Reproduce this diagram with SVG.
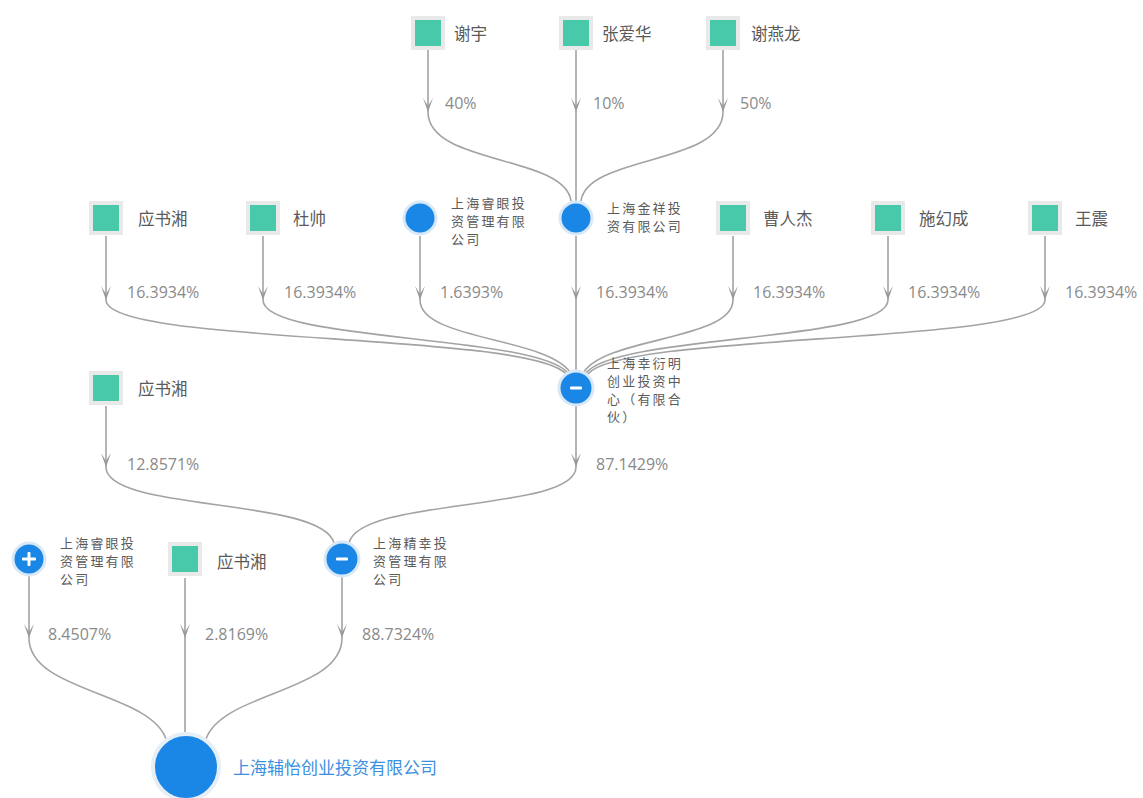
<svg xmlns="http://www.w3.org/2000/svg" width="1143" height="798" viewBox="0 0 1143 798">
<style>
.sq{fill:#48c9a9;stroke:#e9e9e9;stroke-width:4}
.ci{fill:#1a86e6;stroke:#d9e8f6;stroke-width:3}
.lbl{font-family:"Noto Sans CJK SC","Noto Sans",sans-serif;font-size:16.5px;fill:#5a5a5a}
.ml{font-family:"Noto Sans CJK SC","Noto Sans",sans-serif;font-size:13px;letter-spacing:2.2px;fill:#5a5a5a}
.pct{font-family:"Open Sans","Noto Sans",sans-serif;font-size:16px;fill:#8a8a8a}
.ln{fill:none;stroke:#a3a3a3;stroke-width:1.6}
.sg{fill:#fff}
</style>
<defs>
<marker id="ah" viewBox="0 0 10 16" refX="5" refY="15" markerWidth="10" markerHeight="16" markerUnits="userSpaceOnUse" orient="0">
<path d="M0,1 L5,15 L10,1 L5,9 z" fill="#999"/>
</marker>
</defs>
<rect width="1143" height="798" fill="#fff"/>
<g id="connectors">
<path class="ln" d="M428,50 V112" marker-end="url(#ah)"/>
<path class="ln" d="M576,50 V112" marker-end="url(#ah)"/>
<path class="ln" d="M723,50 V112" marker-end="url(#ah)"/>
<path class="ln" d="M428,112 C428,165 565,155 571,201"/>
<path class="ln" d="M576,112 V201"/>
<path class="ln" d="M723,112 C723,165 587,155 581,201"/>
<path class="ln" d="M106,236 V300" marker-end="url(#ah)"/>
<path class="ln" d="M263,236 V300" marker-end="url(#ah)"/>
<path class="ln" d="M420,236 V300" marker-end="url(#ah)"/>
<path class="ln" d="M576,236 V300" marker-end="url(#ah)"/>
<path class="ln" d="M733,236 V300" marker-end="url(#ah)"/>
<path class="ln" d="M888,236 V300" marker-end="url(#ah)"/>
<path class="ln" d="M1045,236 V300" marker-end="url(#ah)"/>
<path class="ln" d="M106,300 C106,345 530,332 566,374"/>
<path class="ln" d="M263,300 C263,342 535,334 568,373"/>
<path class="ln" d="M420,300 C420,340 545,337 570,372"/>
<path class="ln" d="M576,300 V370"/>
<path class="ln" d="M733,300 C733,340 607,337 584,372"/>
<path class="ln" d="M888,300 C888,342 617,334 586,373"/>
<path class="ln" d="M1045,300 C1045,345 622,332 588,374"/>
<path class="ln" d="M106,406 V467" marker-end="url(#ah)"/>
<path class="ln" d="M576,406 V467" marker-end="url(#ah)"/>
<path class="ln" d="M106,467 C106,512 322,497 334,543"/>
<path class="ln" d="M576,467 C576,512 360,497 349,543"/>
<path class="ln" d="M29,576 V638" marker-end="url(#ah)"/>
<path class="ln" d="M185,578 V638" marker-end="url(#ah)"/>
<path class="ln" d="M342,576 V638" marker-end="url(#ah)"/>
<path class="ln" d="M29,638 C29,692 150,692 166,739"/>
<path class="ln" d="M185,638 V732"/>
<path class="ln" d="M342,638 C342,692 222,692 206,739"/>
</g>
<g id="n_xieyu"><rect class="sq" x="413" y="18" width="30" height="30"/><text class="lbl" x="454" y="40">谢宇</text></g>
<g id="n_zhangaihua"><rect class="sq" x="561" y="18" width="30" height="30"/><text class="lbl" x="602" y="40">张爱华</text></g>
<g id="n_xieyanlong"><rect class="sq" x="708" y="18" width="30" height="30"/><text class="lbl" x="751" y="40">谢燕龙</text></g>
<g id="p_row1">
<text class="pct" x="445" y="109">40%</text>
<text class="pct" x="593" y="109">10%</text>
<text class="pct" x="740" y="109">50%</text>
</g>
<g id="n_ysx1"><rect class="sq" x="91" y="203" width="30" height="30"/><text class="lbl" x="138" y="225">应书湘</text></g>
<g id="n_dushuai"><rect class="sq" x="248" y="203" width="30" height="30"/><text class="lbl" x="293" y="225">杜帅</text></g>
<g id="n_ruiyan1"><circle class="ci" cx="420" cy="218" r="16"/><text class="ml" x="451" y="208">上海睿眼投</text><text class="ml" x="451" y="226">资管理有限</text><text class="ml" x="451" y="244">公司</text></g>
<g id="n_jinxiang"><circle class="ci" cx="576" cy="218" r="16"/><text class="ml" x="607" y="213">上海金祥投</text><text class="ml" x="607" y="231">资有限公司</text></g>
<g id="n_caorenjie"><rect class="sq" x="718" y="203" width="30" height="30"/><text class="lbl" x="763" y="225">曹人杰</text></g>
<g id="n_shihuancheng"><rect class="sq" x="873" y="203" width="30" height="30"/><text class="lbl" x="919" y="225">施幻成</text></g>
<g id="n_wangzhen"><rect class="sq" x="1030" y="203" width="30" height="30"/><text class="lbl" x="1075" y="225">王震</text></g>
<g id="p_row2">
<text class="pct" x="127" y="298">16.3934%</text>
<text class="pct" x="284" y="298">16.3934%</text>
<text class="pct" x="440" y="298">1.6393%</text>
<text class="pct" x="596" y="298">16.3934%</text>
<text class="pct" x="753" y="298">16.3934%</text>
<text class="pct" x="908" y="298">16.3934%</text>
<text class="pct" x="1065" y="298">16.3934%</text>
</g>
<g id="n_xingyanming"><circle class="ci" cx="576" cy="388" r="17"/><rect class="sg" x="570" y="386.5" width="12" height="3" rx="1"/>
<text class="ml" x="607" y="368">上海幸衍明</text><text class="ml" x="607" y="386">创业投资中</text><text class="ml" x="607" y="404">心（有限合</text><text class="ml" x="607" y="422">伙）</text></g>
<g id="n_ysx2"><rect class="sq" x="91" y="373" width="30" height="30"/><text class="lbl" x="138" y="395">应书湘</text></g>
<g id="p_row3">
<text class="pct" x="127" y="470">12.8571%</text>
<text class="pct" x="596" y="470">87.1429%</text>
</g>
<g id="n_ruiyan2"><circle class="ci" cx="29" cy="559" r="16"/><rect class="sg" x="22" y="557.5" width="14" height="3" rx="1"/><rect class="sg" x="27.5" y="552" width="3" height="14" rx="1"/>
<text class="ml" x="60" y="548">上海睿眼投</text><text class="ml" x="60" y="566">资管理有限</text><text class="ml" x="60" y="584">公司</text></g>
<g id="n_ysx3"><rect class="sq" x="170" y="544" width="30" height="30"/><text class="lbl" x="217" y="568">应书湘</text></g>
<g id="n_jingxing"><circle class="ci" cx="342" cy="559" r="17"/><rect class="sg" x="336" y="557.5" width="12" height="3" rx="1"/>
<text class="ml" x="373" y="548">上海精幸投</text><text class="ml" x="373" y="566">资管理有限</text><text class="ml" x="373" y="584">公司</text></g>
<g id="p_row4">
<text class="pct" x="48" y="640">8.4507%</text>
<text class="pct" x="205" y="640">2.8169%</text>
<text class="pct" x="362" y="640">88.7324%</text>
</g>
<g id="n_fuyi"><circle cx="186" cy="767" r="33" fill="#1a86e6" stroke="#e6eef6" stroke-width="4"/>
<text x="233" y="774" font-family="'Noto Sans CJK SC','Noto Sans',sans-serif" font-size="17" fill="#3d8fe0">上海辅怡创业投资有限公司</text></g>
</svg>
